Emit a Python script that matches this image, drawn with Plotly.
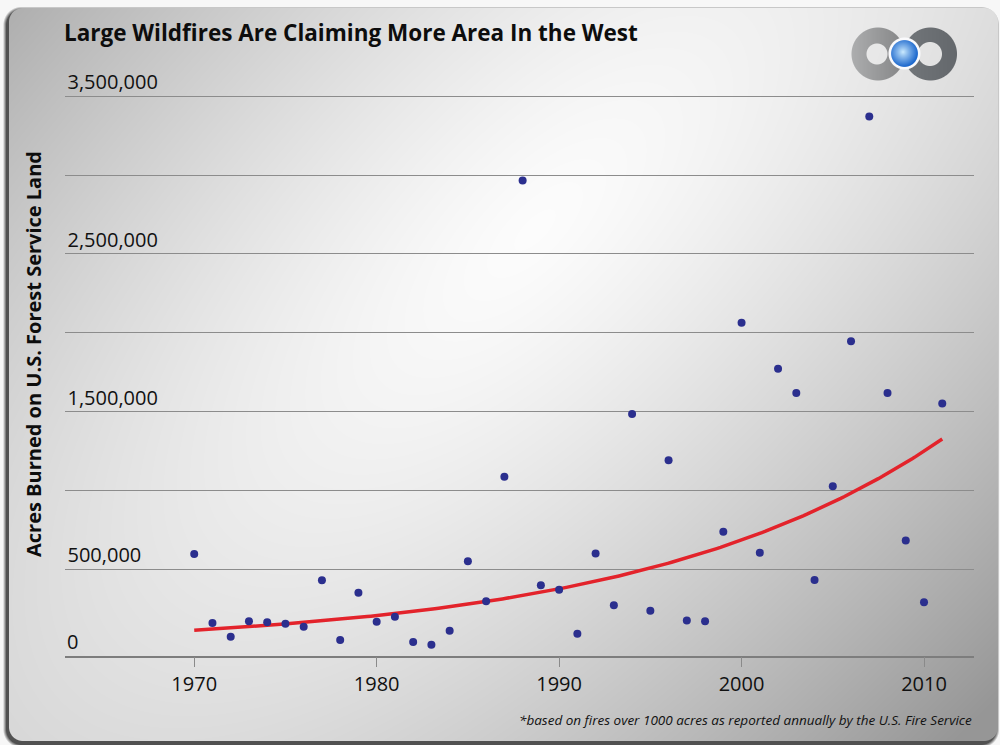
import base64
import struct
import zlib

import numpy as np
import plotly.graph_objects as go

# ---------------- data ----------------
years = list(range(1970, 2012))
acres = [597000, 159000, 72000, 170000, 163000, 154000, 135000, 430000, 51000, 351000,
         167000, 199000, 38000, 21000, 110000, 551000, 297000, 1086000, 2966000, 398000,
         370000, 91000, 599000, 271000, 1484000, 237000, 1192000, 174000, 169000, 737000,
         2064000, 605000, 1772000, 1618000, 432000, 1027000, 1946000, 3373000, 1618000, 682000,
         290000, 1552000]
x_tick_vals = [1970, 1980, 1990, 2000, 2010]
y_grid_vals = [500000, 1000000, 1500000, 2000000, 2500000, 3000000, 3500000]
y_grid_text = ["500,000", "", "1,500,000", "", "2,500,000", "", "3,500,000"]
zero_label = "0"
title_text = "Large Wildfires Are Claiming More Area In the West"
y_title_text = "Acres Burned on U.S. Forest Service Land"
footnote_text = "*based on fires over 1000 acres as reported annually by the U.S. Fire Service"

# exponential trend line (least squares on log values, like a spreadsheet trendline)
b_slope, a_int = np.polyfit(np.array(years, float), np.log(np.array(acres, float)), 1)
trend_x = np.linspace(years[0], years[-1], 200)
trend_y = np.exp(a_int + b_slope * trend_x)

# ---------------- background picture (gradient panel + logo) ----------------
W, H = 1000, 745


def make_background():
    yy, xx = np.mgrid[0:H, 0:W].astype(np.float64)
    xx += 0.5
    yy += 0.5
    cx, cy = 535.0, 230.0
    dx, dy = xx - cx, yy - cy
    u = (dx - dy) / np.sqrt(2)
    v = (dx + dy) / np.sqrt(2)
    r = np.sqrt((u / 1400.0) ** 2 + (v / 573.0) ** 2)
    g = 252.0 - 85.0 * np.minimum(r, 1.15) ** 1.3
    img = np.stack([g, g, g], axis=-1)

    def disk(ccx, ccy, rad):
        d = np.sqrt((xx - ccx) ** 2 + (yy - ccy) ** 2)
        return np.clip(rad - d + 0.5, 0, 1)

    def comp(im, alpha, col):
        a = alpha[..., None]
        return im * (1 - a) + col * a

    # left ring
    a_l = np.clip(disk(878, 54, 26.5) - disk(877, 54, 10.5), 0, 1)
    c_l = 172 - np.clip((xx - 852) / 52.0, 0, 1) * 40
    col_l = np.stack([c_l, c_l + 1, c_l + 2], axis=-1)
    img = comp(img, a_l, col_l)
    # right ring
    a_r = np.clip(disk(930.5, 54, 26.5) - disk(930, 54, 12), 0, 1)
    c_r = 118 - np.clip((xx - 904) / 52.0, 0, 1) * 14
    col_r = np.stack([c_r - 4, c_r, c_r + 4], axis=-1)
    img = comp(img, a_r, col_r)
    # white rim + blue ball
    img = comp(img, disk(904.5, 53.5, 16.0), np.array([250.0, 250.0, 252.0]))
    t = np.clip(np.sqrt((xx - 903) ** 2 + (yy - 52) ** 2) / 14.5, 0, 1) ** 0.9
    c0 = np.array([205.0, 236.0, 255.0])
    c1 = np.array([30.0, 105.0, 205.0])
    col_b = c0 * (1 - t[..., None]) + c1 * t[..., None]
    img = comp(img, disk(904.5, 53.5, 13.4), col_b)

    # rounded frame
    def rbox(x0, x1, y0, y1, rad):
        ccx, ccy = (x0 + x1) / 2, (y0 + y1) / 2
        hw, hh = (x1 - x0) / 2, (y1 - y0) / 2
        qx = np.abs(xx - ccx) - (hw - rad)
        qy = np.abs(yy - ccy) - (hh - rad)
        return (np.sqrt(np.maximum(qx, 0) ** 2 + np.maximum(qy, 0) ** 2)
                + np.minimum(np.maximum(qx, qy), 0) - rad)

    d_in = rbox(9, 998, 8, 741, 14)
    inside = np.clip(0.5 - d_in, 0, 1)[..., None]
    d_sh = rbox(6.5, 996, 10, 744.5, 15)
    sh = np.clip(1 - d_sh / 3.5, 0, 1) * 0.82
    outside = 247 * (1 - sh) + 45 * sh
    outside = np.stack([outside] * 3, axis=-1)
    final = img * inside + outside * (1 - inside)
    return np.clip(np.rint(final), 0, 255).astype(np.uint8)


def png_uri(arr):
    h, w, _ = arr.shape
    rows = arr.reshape(h, w * 3).astype(np.int16)
    filt = np.empty_like(rows)
    filt[0] = rows[0]
    filt[1:] = (rows[1:] - rows[:-1]) % 256
    ftype = np.full((h, 1), 2, np.int16)
    raw = np.hstack([ftype, filt]).astype(np.uint8).tobytes()

    def chunk(tag, data):
        return (struct.pack(">I", len(data)) + tag + data
                + struct.pack(">I", zlib.crc32(tag + data) & 0xFFFFFFFF))

    png = (b"\x89PNG\r\n\x1a\n"
           + chunk(b"IHDR", struct.pack(">IIBBBBB", w, h, 8, 2, 0, 0, 0))
           + chunk(b"IDAT", zlib.compress(raw, 9))
           + chunk(b"IEND", b""))
    return "data:image/png;base64," + base64.b64encode(png).decode("ascii")


bg_uri = png_uri(make_background())

# ---------------- figure ----------------
FONT = "Open Sans"
fig = go.Figure()
fig.add_trace(go.Scatter(
    x=trend_x, y=trend_y, mode="lines",
    line=dict(color="#e3232b", width=3.5), hoverinfo="skip"))
fig.add_trace(go.Scatter(
    x=years, y=acres, mode="markers",
    marker=dict(color="#2b2f8e", size=8, line=dict(width=0))))

fig.update_layout(
    width=W, height=H,
    margin=dict(l=0, r=0, t=0, b=0),
    paper_bgcolor="white",
    plot_bgcolor="rgba(0,0,0,0)",
    showlegend=False,
    font=dict(family=FONT, color="#111111"),
    images=[dict(source=bg_uri, xref="paper", yref="paper", x=0, y=1,
                 sizex=1, sizey=1, xanchor="left", yanchor="top",
                 sizing="stretch", layer="below")],
    title=dict(text=title_text, x=0.064, xanchor="left", xref="paper",
               y=1 - 33 / H, yanchor="middle", yref="paper",
               font=dict(family=FONT, size=22.5, weight=700, color="#0d0d0d")),
    xaxis=dict(
        domain=[0.0645, 0.974], range=[1962.89, 2012.74],
        tickvals=x_tick_vals, ticks="outside", ticklen=10, tickwidth=1,
        tickcolor="#8a8a8a", showline=True, linecolor="#7d7d7d", linewidth=1.5,
        showgrid=False, zeroline=False,
        tickfont=dict(family=FONT, size=20, color="#111111")),
    yaxis=dict(
        domain=[(H - 655.5) / H, (H - 68) / H], range=[-47600, 3680000],
        tickvals=y_grid_vals, ticktext=y_grid_text,
        ticklabelposition="inside top", ticks="",
        showgrid=True, gridcolor="#8c8c8c", gridwidth=1.2,
        zeroline=False, showline=False,
        tickfont=dict(family=FONT, size=20, color="#111111")),
    annotations=[
        dict(text=zero_label, x=0.0645, xref="paper", xanchor="left",
             y=0, yref="y", yanchor="bottom", yshift=-9, showarrow=False,
             font=dict(family=FONT, size=20, color="#111111")),
        dict(text=y_title_text, textangle=-90, x=33 / W, xref="paper",
             xanchor="center", y=1 - 354 / H, yref="paper", yanchor="middle",
             showarrow=False,
             font=dict(family=FONT, size=20, weight=700, color="#0d0d0d")),
        dict(text=footnote_text, x=0.974, xref="paper", xanchor="right",
             y=1 - 720 / H, yref="paper", yanchor="middle", showarrow=False,
             font=dict(family=FONT, size=13.5, style="italic", color="#111111")),
    ],
)

fig.write_html("out.html", config={"displayModeBar": False},
               post_script="document.body.style.margin='0';")
